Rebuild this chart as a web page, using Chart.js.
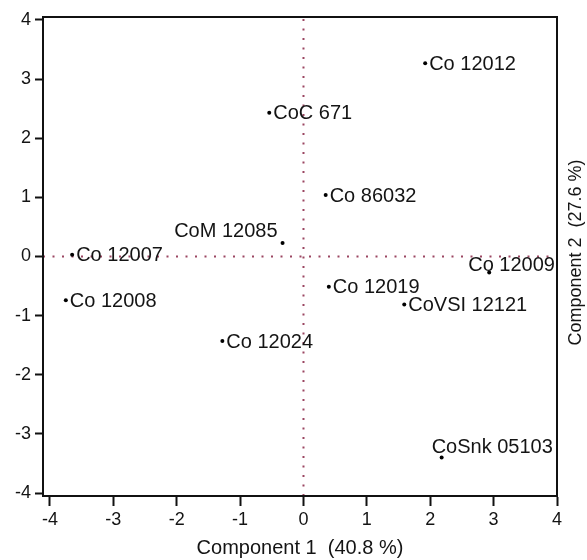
<!DOCTYPE html>
<html>
<head>
<meta charset="utf-8">
<script src="https://cdn.jsdelivr.net/npm/chart.js@4.4.0/dist/chart.umd.min.js"></script>
<style>
  html, body { margin: 0; padding: 0; background: #fff; }
  #wrap { width: 587px; height: 560px; }
</style>
</head>
<body>
<div id="wrap"><canvas id="myChart"></canvas></div>
<script>
// PCA scores
const names = ['Co 12012', 'CoC 671', 'Co 86032', 'CoM 12085', 'Co 12007', 'Co 12008',
               'Co 12019', 'CoVSI 12121', 'Co 12024', 'Co 12009', 'CoSnk 05103'];
const comp1 = [1.92, -0.54, 0.35, -0.33, -3.65, -3.75, 0.40, 1.59, -1.28, 2.93, 2.18];
const comp2 = [3.27, 2.43, 1.04, 0.23, 0.03, -0.74, -0.51, -0.81, -1.43, -0.27, -3.40];

const xTicks = [-4, -3, -2, -1, 0, 1, 2, 3, 4];
const yTicks = [-4, -3, -2, -1, 0, 1, 2, 3, 4];
const xTitle = 'Component 1  (40.8 %)';
const yTitle = 'Component 2  (27.6 %)';

const xMin = -4.11, xMax = 4;
const yMin = -4.05, yMax = 4.05;
const refX = 0, refY = 0;

const FONT = '"Liberation Sans", Arial, sans-serif';
const INK = '#141414';
const DOTS = '#9b4662';

// where each label sits relative to its point (dx, dy, align)
const labelPos = {
  'CoM 12085': [-5, -11, 'right'],
  'Co 12009': [-21, -7, 'left'],
  'CoSnk 05103': [-10, -10, 'left']
};

const labelPlugin = {
  id: 'pointLabels',
  afterDatasetsDraw(chart) {
    const ctx = chart.ctx;
    const meta = chart.getDatasetMeta(0);
    ctx.save();
    ctx.font = '20px ' + FONT;
    ctx.fillStyle = INK;
    ctx.textBaseline = 'middle';
    meta.data.forEach((pt, i) => {
      const pos = labelPos[names[i]] || [4, 1, 'left'];
      ctx.textAlign = pos[2];
      ctx.fillText(names[i], pt.x + pos[0], pt.y + pos[1]);
    });
    ctx.restore();
  }
};

const framePlugin = {
  id: 'frame',
  afterDraw(chart) {
    const a = chart.chartArea;
    const ctx = chart.ctx;
    ctx.save();
    ctx.strokeStyle = '#111';
    ctx.lineWidth = 2;
    ctx.strokeRect(a.left, a.top, a.right - a.left, a.bottom - a.top);
    // right-hand axis title, reading bottom to top
    ctx.translate(576, (a.top + a.bottom) / 2 - 4);
    ctx.rotate(-Math.PI / 2);
    ctx.font = '18px ' + FONT;
    ctx.fillStyle = INK;
    ctx.textAlign = 'center';
    ctx.textBaseline = 'middle';
    ctx.fillText(yTitle, 0, 0);
    ctx.restore();
  }
};

const ctx = document.getElementById('myChart').getContext('2d');
new Chart(ctx, {
  type: 'scatter',
  data: {
    datasets: [
      {
        data: comp1.map((x, i) => ({ x: x, y: comp2[i] })),
        pointRadius: 2,
        pointBackgroundColor: '#000',
        pointBorderWidth: 0
      },
      {
        data: [{ x: refX, y: yMin }, { x: refX, y: yMax }],
        showLine: true,
        pointRadius: 0,
        borderColor: DOTS,
        borderWidth: 2,
        borderDash: [2, 7.5]
      },
      {
        data: [{ x: xMin, y: refY }, { x: xMax, y: refY }],
        showLine: true,
        pointRadius: 0,
        borderColor: DOTS,
        borderWidth: 2,
        borderDash: [2, 7.5]
      }
    ]
  },
  options: {
    responsive: true,
    maintainAspectRatio: false,
    animation: false,
    layout: { padding: { top: 17, right: 30, left: 0, bottom: 0 } },
    plugins: {
      legend: { display: false },
      tooltip: { enabled: false }
    },
    scales: {
      x: {
        type: 'linear',
        min: xMin,
        max: xMax,
        afterBuildTicks: (s) => { s.ticks = xTicks.map(v => ({ value: v })); },
        afterFit: (s) => { s.height = 64; },
        ticks: {
          font: { family: FONT, size: 18 },
          color: INK,
          padding: 3,
          maxRotation: 0,
          autoSkip: false
        },
        grid: {
          drawOnChartArea: false,
          drawTicks: true,
          tickLength: 10,
          tickWidth: 2,
          color: '#111'
        },
        border: { display: true, color: '#111', width: 2 },
        title: {
          display: true,
          text: xTitle,
          font: { family: FONT, size: 20 },
          color: INK,
          padding: { top: 0, bottom: 0 }
        }
      },
      y: {
        type: 'linear',
        min: yMin,
        max: yMax,
        afterBuildTicks: (s) => { s.ticks = yTicks.map(v => ({ value: v })); },
        afterFit: (s) => { s.width = 43; },
        ticks: {
          font: { family: FONT, size: 18 },
          color: INK,
          padding: 4,
          autoSkip: false
        },
        grid: {
          drawOnChartArea: false,
          drawTicks: true,
          tickLength: 8,
          tickWidth: 2,
          color: '#111'
        },
        border: { display: true, color: '#111', width: 2 }
      }
    }
  },
  plugins: [labelPlugin, framePlugin]
});
</script>
</body>
</html>
